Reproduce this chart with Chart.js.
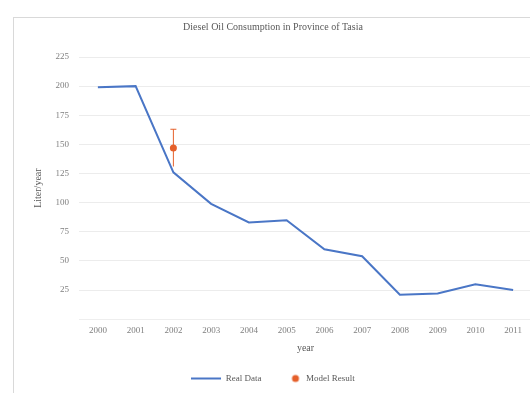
<!DOCTYPE html>
<html>
<head>
<meta charset="utf-8">
<script src="https://cdn.jsdelivr.net/npm/chart.js@4"></script>
<style>
  html, body { margin: 0; padding: 0; background: #fff; overflow: hidden; }
  #frame {
    position: absolute; left: 13px; top: 17px; width: 540px; height: 400px;
    border-left: 1px solid #d9d9d9; border-top: 1px solid #d9d9d9;
  }
  #wrap { position: absolute; left: 14px; top: 18px; width: 530px; height: 375px; }
</style>
</head>
<body>
<div id="frame"></div>
<div id="wrap"><canvas id="chart"></canvas></div>
<script>
var years = ['2000', '2001', '2002', '2003', '2004', '2005', '2006', '2007', '2008', '2009', '2010', '2011'];
var realData = [199, 200, 126, 99, 83, 85, 60, 54, 21, 22, 30, 25];
var modelResult = [null, null, 147, null, null, null, null, null, null, null, null, null];
var modelUpper = [null, null, 163, null, null, null, null, null, null, null, null, null];
var modelLower = [null, null, 131, null, null, null, null, null, null, null, null, null];

var serif = 'Liberation Serif';

// little legend symbols
function legendImage(kind, color) {
  var c = document.createElement('canvas');
  c.width = 30; c.height = 10;
  var g = c.getContext('2d');
  if (kind === 'line') {
    g.strokeStyle = color; g.lineWidth = 2;
    g.beginPath(); g.moveTo(0, 5); g.lineTo(30, 5); g.stroke();
  } else {
    g.fillStyle = color;
    g.beginPath(); g.arc(24, 5, 3.5, 0, Math.PI * 2); g.fill();
  }
  return c;
}

var errorBars = {
  id: 'errorBars',
  afterDatasetsDraw: function(chart) {
    var ctx = chart.ctx;
    var x = chart.scales.x, y = chart.scales.y;
    ctx.save();
    ctx.strokeStyle = '#E5602B';
    ctx.lineWidth = 1;
    for (var i = 0; i < years.length; i++) {
      if (modelUpper[i] == null) continue;
      var px = x.getPixelForValue(i);
      var top = y.getPixelForValue(modelUpper[i]);
      var bot = y.getPixelForValue(modelLower[i]);
      ctx.beginPath();
      ctx.moveTo(px, top); ctx.lineTo(px, bot);
      ctx.moveTo(px - 3, top); ctx.lineTo(px + 3, top);
      ctx.stroke();
    }
    ctx.restore();
  }
};

var ctx = document.getElementById('chart').getContext('2d');
var myChart = new Chart(ctx, {
  type: 'line',
  data: {
    labels: years,
    datasets: [
      {
        label: 'Real Data',
        data: realData,
        borderColor: '#4A76C6',
        backgroundColor: '#4A76C6',
        borderWidth: 2,
        pointRadius: 0,
        tension: 0
      },
      {
        label: 'Model Result',
        data: modelResult,
        showLine: false,
        borderColor: '#E5602B',
        backgroundColor: '#E5602B',
        pointRadius: 3.5,
        pointBorderWidth: 0
      }
    ]
  },
  options: {
    responsive: true,
    maintainAspectRatio: false,
    animation: false,
    layout: { padding: { left: 0, right: 12, top: 0, bottom: 0 } },
    plugins: {
      title: {
        display: true,
        text: 'Diesel Oil Consumption in Province of Tasia',
        color: '#595959',
        font: { family: serif, size: 10, weight: 'normal' },
        padding: { top: 3, bottom: 24 }
      },
      legend: {
        position: 'bottom',
        labels: {
          usePointStyle: true,
          pointStyleWidth: 30,
          color: '#595959',
          font: { family: serif, size: 9 },
          padding: 10,
          generateLabels: function(chart) {
            return [
              { text: 'Real Data', pointStyle: legendImage('line', '#4A76C6'), fontColor: '#595959', datasetIndex: 0 },
              { text: 'Model Result', pointStyle: legendImage('dot', '#E5602B'), fontColor: '#595959', datasetIndex: 1 }
            ];
          }
        }
      },
      tooltip: { enabled: false }
    },
    scales: {
      x: {
        offset: true,
        grid: { display: false, drawTicks: false },
        border: { display: true, color: '#eeeeee' },
        ticks: { color: '#7f7f7f', font: { family: serif, size: 9 }, padding: 6, maxRotation: 0 },
        title: {
          display: true, text: 'year', color: '#595959',
          font: { family: serif, size: 10 },
          padding: { top: 0, bottom: 10 }
        }
      },
      y: {
        min: 0,
        max: 225,
        afterFit: function(scale) { scale.width = 65; },
        grid: { color: '#ececec', drawTicks: false },
        border: { display: false },
        ticks: {
          stepSize: 25,
          color: '#7f7f7f',
          font: { family: serif, size: 9 },
          padding: 10,
          callback: function(v) { return v === 0 ? '' : v; }
        },
        title: {
          display: true, text: 'Liter/year', color: '#595959',
          font: { family: serif, size: 10 },
          padding: { top: 18, bottom: 0 }
        }
      }
    }
  },
  plugins: [errorBars]
});
</script>
</body>
</html>
